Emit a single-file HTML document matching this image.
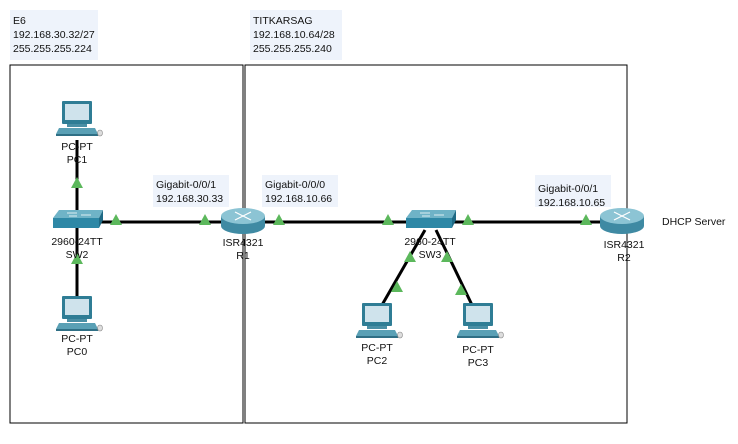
<!DOCTYPE html>
<html><head><meta charset="utf-8"><style>
body{margin:0;background:#fff;width:738px;height:439px;overflow:hidden}
text{font-family:"Liberation Sans",Arial,sans-serif;font-size:10.5px;fill:#111}
</style></head><body>
<svg width="738" height="439" viewBox="0 0 738 439" xmlns="http://www.w3.org/2000/svg">
<defs>
<g id="pc">
 <rect x="-15" y="-19" width="30" height="23" fill="#2f7d95" rx="1"/>
 <rect x="-12" y="-16" width="24" height="16" fill="#cfe3ec"/>
 <rect x="-10" y="4" width="20" height="3" fill="#4a8fa5"/>
 <polygon points="-18,8 18,8 21,14 -21,14" fill="#5aa0b5"/>
 <polygon points="-21,14 21,14 21,16 -21,16" fill="#2f6f85"/>
 <ellipse cx="23" cy="13" rx="2.5" ry="3" fill="#ddd" stroke="#888" stroke-width="0.6"/>
</g>
<g id="sw">
 <polygon points="-18,-10 26,-10 22,-2 -24,-2" fill="#6fb3c7"/>
 <rect x="-24" y="-2" width="46" height="10" fill="#2e88a6"/>
 <polygon points="22,-2 26,-10 26,0 22,8" fill="#1f6a85"/>
 <path d="M-10,-7 h10 M4,-5 h10 M-8,-4 h8" stroke="#fff" stroke-width="0.8"/>
</g>
<g id="rt">
 <path d="M-22,-4 v10 a22,8 0 0 0 44,0 v-10 z" fill="#3f8aa3"/>
 <ellipse cx="0" cy="-4" rx="22" ry="8" fill="#8cc4d4"/>
 <path d="M-8,-8 l16,8 M8,-8 l-16,8" stroke="#fff" stroke-width="1.2"/>
</g>
<polygon id="tri" points="0,-6 6,5 -6,5" fill="#5cb85c"/>
</defs>
<rect x="10" y="65" width="233" height="358" fill="none" stroke="#000" stroke-width="1"/>
<rect x="245" y="65" width="382" height="358" fill="none" stroke="#000" stroke-width="1"/>
<rect x="10" y="10" width="88" height="50" fill="#eef3fb"/>
<text x="13" y="24">E6</text><text x="13" y="38">192.168.30.32/27</text><text x="13" y="52">255.255.255.224</text>
<rect x="250" y="10" width="92" height="50" fill="#eef3fb"/>
<text x="253" y="24">TITKARSAG</text><text x="253" y="38">192.168.10.64/28</text><text x="253" y="52">255.255.255.240</text>
<g stroke="#000" stroke-width="3">
<line x1="77" y1="140" x2="77" y2="300"/>
<line x1="77" y1="222" x2="622" y2="222"/>
<line x1="425" y1="230" x2="382" y2="305"/>
<line x1="436" y1="230" x2="472" y2="305"/>
</g>
<rect x="153" y="175" width="76" height="32" fill="#eef3fb"/>
<text x="156" y="188">Gigabit-0/0/1</text><text x="156" y="202">192.168.30.33</text>
<rect x="262" y="175" width="76" height="32" fill="#eef3fb"/>
<text x="265" y="188">Gigabit-0/0/0</text><text x="265" y="202">192.168.10.66</text>
<rect x="535" y="175" width="76" height="32" fill="#eef3fb"/>
<text x="538" y="192">Gigabit-0/0/1</text><text x="538" y="206">192.168.10.65</text>
<use href="#pc" x="77" y="120"/>
<use href="#pc" x="77" y="315"/>
<use href="#pc" x="377" y="322"/>
<use href="#pc" x="478" y="322"/>
<use href="#sw" x="77" y="220"/>
<use href="#sw" x="430" y="220"/>
<use href="#rt" x="243" y="220"/>
<use href="#rt" x="622" y="220"/>
<use href="#tri" x="77" y="183"/><use href="#tri" x="77" y="259"/>
<use href="#tri" x="116" y="220"/><use href="#tri" x="205" y="220"/>
<use href="#tri" x="279" y="220"/><use href="#tri" x="388" y="220"/>
<use href="#tri" x="468" y="220"/><use href="#tri" x="586" y="220"/>
<use href="#tri" x="410" y="257"/><use href="#tri" x="397" y="287"/>
<use href="#tri" x="447" y="257"/><use href="#tri" x="461" y="290"/>
<g text-anchor="middle">
<text x="77" y="150">PC-PT</text><text x="77" y="163">PC1</text>
<text x="77" y="245">2960-24TT</text><text x="77" y="258">SW2</text>
<text x="77" y="342">PC-PT</text><text x="77" y="355">PC0</text>
<text x="243" y="246">ISR4321</text><text x="243" y="259">R1</text>
<text x="430" y="245">2960-24TT</text><text x="430" y="258">SW3</text>
<text x="377" y="351">PC-PT</text><text x="377" y="364">PC2</text>
<text x="478" y="353">PC-PT</text><text x="478" y="366">PC3</text>
<text x="624" y="248">ISR4321</text><text x="624" y="261">R2</text>
</g>
<text x="662" y="225">DHCP Server</text>
</svg>
</body></html>
